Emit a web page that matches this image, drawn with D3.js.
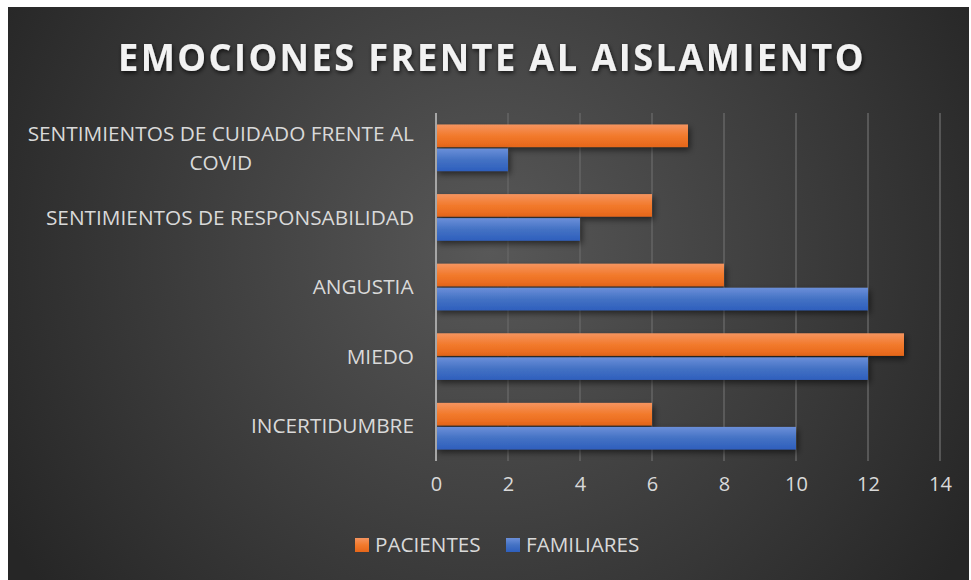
<!DOCTYPE html>
<html><head><meta charset="utf-8">
<script src="https://cdn.jsdelivr.net/npm/d3@7"></script>
<style>html,body{margin:0;padding:0;background:#fff;}svg{display:block;}</style>
</head><body>
<script>
const categories = ["SENTIMIENTOS DE CUIDADO FRENTE AL COVID","SENTIMIENTOS DE RESPONSABILIDAD","ANGUSTIA","MIEDO","INCERTIDUMBRE"];
const labelLines = [["SENTIMIENTOS DE CUIDADO FRENTE AL","COVID"],["SENTIMIENTOS DE RESPONSABILIDAD"],["ANGUSTIA"],["MIEDO"],["INCERTIDUMBRE"]];
const pacientes = [7, 6, 8, 13, 6];
const familiares = [2, 4, 12, 12, 10];
const seriesNames = ["PACIENTES", "FAMILIARES"];
const xTicks = [0, 2, 4, 6, 8, 10, 12, 14];
const title = "EMOCIONES FRENTE AL AISLAMIENTO";

const W = 971, H = 580;
const svg = d3.select("body").append("svg").attr("width", W).attr("height", H);
const defs = svg.append("defs");
const rg = defs.append("radialGradient").attr("id","bg").attr("gradientUnits","userSpaceOnUse")
  .attr("cx",490).attr("cy",250).attr("r",560);
rg.append("stop").attr("offset","0").attr("stop-color","#585858");
rg.append("stop").attr("offset","1").attr("stop-color","#262626");
const og = defs.append("linearGradient").attr("id","og").attr("x1",0).attr("y1",0).attr("x2",0).attr("y2",1);
og.append("stop").attr("offset","0").attr("stop-color","#f5945f");
og.append("stop").attr("offset","0.5").attr("stop-color","#f27a2c");
og.append("stop").attr("offset","1").attr("stop-color","#e6661a");
const bgr = defs.append("linearGradient").attr("id","bgr").attr("x1",0).attr("y1",0).attr("x2",0).attr("y2",1);
bgr.append("stop").attr("offset","0").attr("stop-color","#6b8fd9");
bgr.append("stop").attr("offset","0.5").attr("stop-color","#4472c4");
bgr.append("stop").attr("offset","1").attr("stop-color","#2e5fbd");
const sh = defs.append("filter").attr("id","sh").attr("x","-10%").attr("y","-30%").attr("width","130%").attr("height","180%");
sh.append("feDropShadow").attr("dx",2).attr("dy",3).attr("stdDeviation",3).attr("flood-color","#000").attr("flood-opacity",0.55);
const tsh = defs.append("filter").attr("id","tsh").attr("x","-5%").attr("y","-30%").attr("width","110%").attr("height","170%");
tsh.append("feDropShadow").attr("dx",1).attr("dy",2).attr("stdDeviation",2).attr("flood-color","#000").attr("flood-opacity",0.7);

svg.append("rect").attr("x",8).attr("y",7).attr("width",961).attr("height",573).attr("fill","url(#bg)");

svg.append("text").attr("x",492).attr("y",71).attr("text-anchor","middle")
  .attr("font-family","'Open Sans', sans-serif").attr("font-weight","700").attr("font-size",38)
  .attr("letter-spacing","2.5").attr("fill","#f2f2f2").attr("filter","url(#tsh)")
  .attr("textLength",748).attr("lengthAdjust","spacingAndGlyphs").text(title);

const x = d3.scaleLinear().domain([0,14]).range([436,940]);
const y = d3.scaleBand().domain(categories).range([113,461]).paddingInner(0.33).paddingOuter(0.165);
const inner = d3.scaleBand().domain(seriesNames).range([0, y.bandwidth()]).paddingInner(0.06);

// gridlines
svg.append("g").selectAll("line").data(xTicks.slice(1)).join("line")
  .attr("x1",d=>x(d)).attr("x2",d=>x(d)).attr("y1",113).attr("y2",461)
  .attr("stroke","#656565").attr("stroke-width",1.5);

const data = [pacientes, familiares];
const fills = ["url(#og)","url(#bgr)"];
seriesNames.forEach((s,i)=>{
  svg.append("g").selectAll("rect").data(categories).join("rect")
    .attr("x",x(0)).attr("y",c=>y(c)+inner(s))
    .attr("width",(c,j)=>x(data[i][j])-x(0)).attr("height",inner.bandwidth())
    .attr("fill",fills[i]).attr("filter","url(#sh)");
});

// zero axis line
svg.append("line").attr("x1",x(0)).attr("x2",x(0)).attr("y1",113).attr("y2",461)
  .attr("stroke","#a6a6a6").attr("stroke-width",2);

// x axis tick labels
const xAxis = d3.axisBottom(x).tickValues(xTicks).tickSize(0).tickPadding(0).tickFormat(d3.format("d"));
const gx = svg.append("g").attr("transform","translate(0,477)").call(xAxis);
gx.select(".domain").remove();
gx.selectAll("text").attr("font-family","'Open Sans', sans-serif").attr("font-size",20).attr("fill","#d9d9d9");

// category labels
const gl = svg.append("g");
categories.forEach((c,i)=>{
  const lines = labelLines[i];
  const cy = y(c) + y.bandwidth()/2;
  const lh = 29;
  const t = gl.append("text").attr("font-family","'Open Sans', sans-serif").attr("font-size",20.8)
    .attr("fill","#d9d9d9").attr("text-anchor","middle");
  lines.forEach((ln,k)=>{
    t.append("tspan").attr("x",0).attr("y",cy + (k-(lines.length-1)/2)*lh).attr("dy","0.35em").text(ln);
  });
  const bw = t.node().getBBox().width;
  t.attr("transform",`translate(${414 - bw/2},0)`);
});

// legend
const leg = svg.append("g");
const legItems = [{n:"PACIENTES",f:"url(#og)",x:355},{n:"FAMILIARES",f:"url(#bgr)",x:506}];
legItems.forEach(it=>{
  leg.append("rect").attr("x",it.x).attr("y",538).attr("width",14).attr("height",14).attr("fill",it.f);
  leg.append("text").attr("x",it.x+20).attr("y",545).attr("dy","0.35em")
    .attr("font-family","'Open Sans', sans-serif").attr("font-size",20.7).attr("fill","#d9d9d9").text(it.n);
});
</script>
</body></html>
